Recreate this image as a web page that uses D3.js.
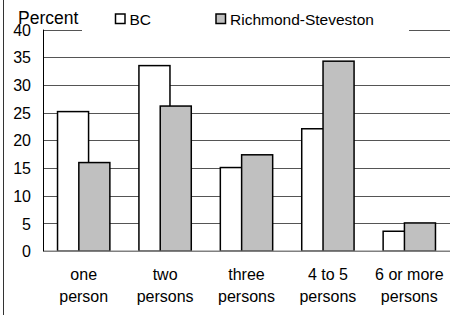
<!DOCTYPE html>
<html lang="en">
<head>
<meta charset="UTF-8">
<script src="https://cdn.jsdelivr.net/npm/d3@7/dist/d3.min.js"></script>
<title>Household size</title>
<style>
  body { margin: 0; background: #fff; }
  text { font-family: "Liberation Sans", Arial, sans-serif; fill: #000; }
</style>
</head>
<body>
<script>
var categories = [["one", "person"], ["two", "persons"], ["three", "persons"], ["4 to 5", "persons"], ["6 or more", "persons"]];
var seriesNames = ["BC", "Richmond-Steveston"];
var bcValues = [25.2, 33.5, 15.1, 22.1, 3.6];
var richmondValues = [16.0, 26.2, 17.4, 34.3, 5.1];
var yTicks = [0, 5, 10, 15, 20, 25, 30, 35, 40];

var width = 456, height = 315;
var plot = {left: 43, right: 450, top: 29.6, bottom: 251.2};
var colors = ["#ffffff", "#c0c0c0"];

var svg = d3.select("body").append("svg")
    .attr("width", width).attr("height", height);

var x0 = d3.scaleBand()
    .domain(d3.range(categories.length))
    .range([plot.left, plot.right])
    .paddingInner(0.357)
    .paddingOuter(0.1785);

var y = d3.scaleLinear().domain([0, 40]).range([plot.bottom, plot.top]);

// outer chart border (only the left edge is in the picture)
svg.append("line")
    .attr("x1", 3.5).attr("x2", 3.5).attr("y1", 0).attr("y2", height)
    .attr("stroke", "#333").attr("stroke-width", 1);

// gridlines
svg.selectAll("line.grid").data(yTicks.slice(1))
    .enter().append("line")
    .attr("class", "grid")
    .attr("x1", plot.left).attr("x2", plot.right)
    .attr("y1", function(d){ return Math.round(y(d)) + 0.5; })
    .attr("y2", function(d){ return Math.round(y(d)) + 0.5; })
    .attr("stroke", "#555").attr("stroke-width", 1);

// tick labels
svg.selectAll("text.ytick").data(yTicks)
    .enter().append("text")
    .attr("class", "ytick")
    .attr("x", 31)
    .attr("y", function(d){ return y(d); })
    .attr("dy", "0.38em")
    .attr("text-anchor", "end")
    .attr("font-size", "16px")
    .text(function(d){ return d; });

// bars: gray bar overlaps and sits on top of the white one
var barW = x0.bandwidth() * 0.593;
var series = [bcValues, richmondValues];
series.forEach(function(vals, s){
    svg.selectAll("rect.s" + s).data(vals)
        .enter().append("rect")
        .attr("class", "s" + s)
        .attr("x", function(d, i){
            return s === 0 ? x0(i) : x0(i) + x0.bandwidth() - barW;
        })
        .attr("y", function(d){ return y(d); })
        .attr("width", barW)
        .attr("height", function(d){ return y(0) - y(d); })
        .attr("fill", colors[s])
        .attr("stroke", "#000")
        .attr("stroke-width", 1.5);
});

// axes lines
svg.append("line")
    .attr("x1", plot.left).attr("x2", plot.right)
    .attr("y1", y(0)).attr("y2", y(0))
    .attr("stroke", "#808080").attr("stroke-width", 1.5);
svg.append("line")
    .attr("x1", plot.left + 0.5).attr("x2", plot.left + 0.5)
    .attr("y1", plot.top).attr("y2", y(0))
    .attr("stroke", "#000").attr("stroke-width", 1);

// category labels
var cat = svg.selectAll("text.cat").data(categories)
    .enter().append("text")
    .attr("class", "cat")
    .attr("text-anchor", "middle")
    .attr("font-size", "16px");
cat.append("tspan")
    .attr("x", function(d, i){ return x0(i) + x0.bandwidth() / 2; })
    .attr("y", 280)
    .text(function(d){ return d[0]; });
cat.append("tspan")
    .attr("x", function(d, i){ return x0(i) + x0.bandwidth() / 2; })
    .attr("y", 301.5)
    .text(function(d){ return d[1]; });

// legend (white box hides the top gridline)
svg.append("rect")
    .attr("x", 82).attr("y", 4).attr("width", 327).attr("height", 32)
    .attr("fill", "#fff");
var legendX = [115.5, 216];
seriesNames.forEach(function(name, s){
    svg.append("rect")
        .attr("x", legendX[s]).attr("y", 14)
        .attr("width", 9.5).attr("height", 9.5)
        .attr("fill", colors[s]).attr("stroke", "#000").attr("stroke-width", 1.5);
    svg.append("text")
        .attr("x", legendX[s] + 14).attr("y", 25)
        .attr("font-size", "15.5px")
        .text(name);
});

// axis title
svg.append("text")
    .attr("x", 18).attr("y", 24)
    .attr("font-size", "17.5px")
    .text("Percent");
</script>
</body>
</html>
